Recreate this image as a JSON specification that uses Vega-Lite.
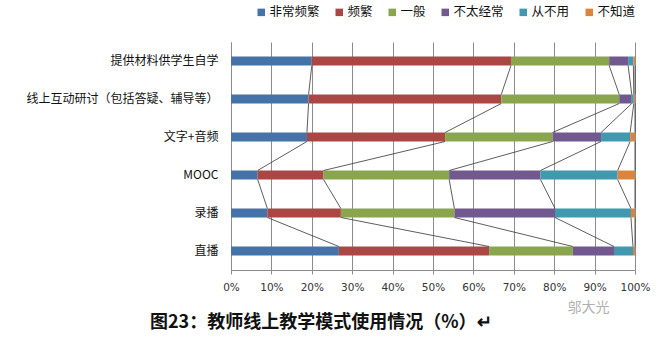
{
  "$schema": "https://vega.github.io/schema/vega-lite/v6.json",
  "autosize": {"type": "none"},
  "width": 404,
  "height": 228,
  "padding": {"left": 231, "top": 42, "right": 29, "bottom": 68},
  "background": "white",
  "config": {"view": {"stroke": null}, "font": "Noto Sans CJK SC"},
  "title": {
    "text": "图23：教师线上教学模式使用情况（%）↵",
    "orient": "bottom",
    "anchor": "start",
    "frame": "group",
    "dx": -81,
    "offset": 0,
    "font": "Noto Sans CJK SC",
    "fontSize": 18,
    "fontWeight": "bold",
    "color": "#111111"
  },
  "data": {
    "values": [
      {"cat": "提供材料供学生自学", "ci": 0, "s": "非常频繁", "si": 0, "v": 20.0},
      {"cat": "提供材料供学生自学", "ci": 0, "s": "频繁", "si": 1, "v": 49.3},
      {"cat": "提供材料供学生自学", "ci": 0, "s": "一般", "si": 2, "v": 24.3},
      {"cat": "提供材料供学生自学", "ci": 0, "s": "不太经常", "si": 3, "v": 4.7},
      {"cat": "提供材料供学生自学", "ci": 0, "s": "从不用", "si": 4, "v": 1.3},
      {"cat": "提供材料供学生自学", "ci": 0, "s": "不知道", "si": 5, "v": 0.4},
      {"cat": "线上互动研讨（包括答疑、辅导等）", "ci": 1, "s": "非常频繁", "si": 0, "v": 19.2},
      {"cat": "线上互动研讨（包括答疑、辅导等）", "ci": 1, "s": "频繁", "si": 1, "v": 47.7},
      {"cat": "线上互动研讨（包括答疑、辅导等）", "ci": 1, "s": "一般", "si": 2, "v": 29.2},
      {"cat": "线上互动研讨（包括答疑、辅导等）", "ci": 1, "s": "不太经常", "si": 3, "v": 3.1},
      {"cat": "线上互动研讨（包括答疑、辅导等）", "ci": 1, "s": "从不用", "si": 4, "v": 0.5},
      {"cat": "线上互动研讨（包括答疑、辅导等）", "ci": 1, "s": "不知道", "si": 5, "v": 0.3},
      {"cat": "文字+音频", "ci": 2, "s": "非常频繁", "si": 0, "v": 18.8},
      {"cat": "文字+音频", "ci": 2, "s": "频繁", "si": 1, "v": 34.2},
      {"cat": "文字+音频", "ci": 2, "s": "一般", "si": 2, "v": 26.6},
      {"cat": "文字+音频", "ci": 2, "s": "不太经常", "si": 3, "v": 12.0},
      {"cat": "文字+音频", "ci": 2, "s": "从不用", "si": 4, "v": 7.2},
      {"cat": "文字+音频", "ci": 2, "s": "不知道", "si": 5, "v": 1.2},
      {"cat": "MOOC", "ci": 3, "s": "非常频繁", "si": 0, "v": 6.6},
      {"cat": "MOOC", "ci": 3, "s": "频繁", "si": 1, "v": 16.3},
      {"cat": "MOOC", "ci": 3, "s": "一般", "si": 2, "v": 31.1},
      {"cat": "MOOC", "ci": 3, "s": "不太经常", "si": 3, "v": 22.6},
      {"cat": "MOOC", "ci": 3, "s": "从不用", "si": 4, "v": 19.1},
      {"cat": "MOOC", "ci": 3, "s": "不知道", "si": 5, "v": 4.3},
      {"cat": "录播", "ci": 4, "s": "非常频繁", "si": 0, "v": 9.0},
      {"cat": "录播", "ci": 4, "s": "频繁", "si": 1, "v": 18.2},
      {"cat": "录播", "ci": 4, "s": "一般", "si": 2, "v": 28.1},
      {"cat": "录播", "ci": 4, "s": "不太经常", "si": 3, "v": 24.9},
      {"cat": "录播", "ci": 4, "s": "从不用", "si": 4, "v": 18.8},
      {"cat": "录播", "ci": 4, "s": "不知道", "si": 5, "v": 1.0},
      {"cat": "直播", "ci": 5, "s": "非常频繁", "si": 0, "v": 26.7},
      {"cat": "直播", "ci": 5, "s": "频繁", "si": 1, "v": 37.2},
      {"cat": "直播", "ci": 5, "s": "一般", "si": 2, "v": 20.7},
      {"cat": "直播", "ci": 5, "s": "不太经常", "si": 3, "v": 10.2},
      {"cat": "直播", "ci": 5, "s": "从不用", "si": 4, "v": 4.7},
      {"cat": "直播", "ci": 5, "s": "不知道", "si": 5, "v": 0.5}
    ]
  },
  "layer": [
    {
      "mark": {"type": "bar", "size": 9},
      "encoding": {
        "y": {
          "field": "cat",
          "type": "nominal",
          "scale": {
            "domain": ["提供材料供学生自学", "线上互动研讨（包括答疑、辅导等）", "文字+音频", "MOOC", "录播", "直播"],
            "paddingInner": 0,
            "paddingOuter": 0
          },
          "axis": {
            "title": null,
            "ticks": false,
            "domain": true,
            "domainColor": "#8c8c8c",
            "labelPadding": 13,
            "labelFontSize": 12,
            "labelLimit": 300,
            "labelColor": "#111111",
            "labelFont": "Noto Sans CJK SC",
            "grid": false
          }
        },
        "x": {
          "field": "v",
          "type": "quantitative",
          "stack": "zero",
          "scale": {"domain": [0, 100], "nice": false},
          "axis": {
            "values": [0, 10, 20, 30, 40, 50, 60, 70, 80, 90, 100],
            "labelExpr": "datum.value + '%'",
            "labelOverlap": false,
            "labelFlush": false,
            "grid": true,
            "gridColor": "#8c8c8c",
            "domainColor": "#8c8c8c",
            "tickColor": "#8c8c8c",
            "tickSize": 4,
            "labelPadding": 8,
            "labelFontSize": 10.5,
            "labelColor": "#333333",
            "labelFont": "DejaVu Sans",
            "title": "邬大光",
            "titleColor": "#b0b0b0",
            "titleFontSize": 14,
            "titleFontWeight": "normal",
            "titleFont": "Noto Sans CJK SC",
            "titleAnchor": "end",
            "titleAlign": "right",
            "titleX": 378,
            "titleY": 41,
            "titleBaseline": "alphabetic"
          }
        },
        "color": {
          "field": "s",
          "type": "nominal",
          "scale": {
            "domain": ["非常频繁", "频繁", "一般", "不太经常", "从不用", "不知道"],
            "range": ["#4572A7", "#AA4643", "#89A54E", "#71588F", "#4198AF", "#DB843D"]
          },
          "legend": {
            "title": null,
            "orient": "none",
            "direction": "horizontal",
            "legendX": 24,
            "legendY": -36,
            "symbolType": "square",
            "symbolSize": 56,
            "symbolStrokeWidth": 0,
            "labelFontSize": 12.5,
            "labelColor": "#111111",
            "labelOffset": 2,
            "columnPadding": 13,
            "labelFont": "Noto Sans CJK SC"
          }
        },
        "order": {"field": "si", "type": "quantitative"}
      }
    },
    {
      "transform": [
        {"window": [{"op": "sum", "field": "v", "as": "cum"}], "groupby": ["cat"], "sort": [{"field": "si", "order": "ascending"}], "frame": [null, 0]},
        {"window": [{"op": "lead", "field": "cum", "as": "nextCum"}, {"op": "lead", "field": "cat", "as": "nextCat"}], "groupby": ["s"], "sort": [{"field": "ci", "order": "ascending"}], "frame": [null, null]},
        {"filter": "datum.nextCat != null"}
      ],
      "mark": {"type": "rule", "color": "#333333", "strokeWidth": 0.8, "yOffset": 4.5, "y2Offset": -4.5},
      "encoding": {
        "x": {"field": "cum", "type": "quantitative"},
        "x2": {"field": "nextCum"},
        "y": {"field": "cat", "type": "nominal"},
        "y2": {"field": "nextCat"}
      }
    }
  ]
}
